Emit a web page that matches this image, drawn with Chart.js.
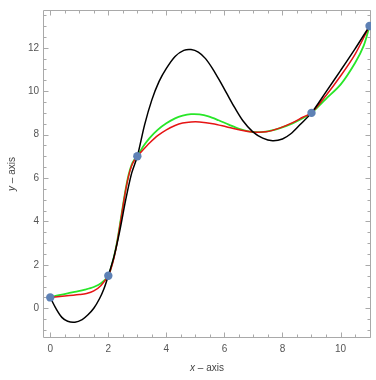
<!DOCTYPE html>
<html><head><meta charset="utf-8">
<script src="https://cdn.jsdelivr.net/npm/chart.js@4.4.1/dist/chart.umd.min.js"></script>
<style>html,body{margin:0;padding:0;background:#fff}#wrap{width:376px;height:380px}</style>
</head><body><div id="wrap"><canvas id="c"></canvas></div>
<script>
// data points
const pointsX=[0,2,3,9,11];
const pointsY=[0.5,1.5,7,9,13];
// black curve
const blackX=[0,0.2,0.4,0.6,0.85,1.1,1.3,1.5,1.7,1.85,2.0,2.2,2.4,2.6,2.8,3.0,3.25,3.5,3.75,4.0,4.3,4.6,4.85,5.1,5.35,5.6,5.85,6.1,6.35,6.63,6.97,7.32,7.66,8.0,8.3,8.6,9.0,9.5,10.0,10.5,11.0];
const blackY=[0.5,-0.02,-0.42,-0.6,-0.64,-0.52,-0.3,0.0,0.45,0.9,1.5,2.4,3.6,5.0,6.2,7.0,8.45,9.6,10.45,11.05,11.6,11.88,11.92,11.8,11.5,11.02,10.45,9.85,9.25,8.65,8.14,7.84,7.72,7.8,8.05,8.45,9.0,9.97,10.95,11.95,13.0];
// red curve
const redX=[0,0.5,1.0,1.25,1.5,1.75,2.0,2.1,2.2,2.3,2.4,2.5,2.6,2.7,2.8,2.9,3.0,3.2,3.42,3.7,4.0,4.3,4.56,4.85,5.14,5.6,6.06,6.51,6.97,7.43,7.9,8.35,8.7,9.0,9.5,10.0,10.5,11.0];
const redY=[0.5,0.56,0.63,0.68,0.8,1.05,1.5,1.85,2.35,3.0,3.8,4.65,5.45,6.1,6.55,6.82,7.0,7.3,7.61,7.95,8.22,8.42,8.53,8.58,8.58,8.5,8.36,8.22,8.12,8.13,8.3,8.55,8.8,9.0,9.8,10.7,11.7,13.0];
// green curve
const greenX=[0,0.3,0.6,0.9,1.2,1.5,1.75,2.0,2.1,2.2,2.3,2.4,2.5,2.6,2.7,2.8,2.9,3.0,3.2,3.42,3.7,4.0,4.3,4.56,4.85,5.14,5.45,5.8,6.15,6.51,6.97,7.43,7.89,8.35,8.81,9.0,9.5,10.0,10.5,10.8,11.0];
const greenY=[0.5,0.6,0.69,0.77,0.86,0.98,1.15,1.5,1.9,2.4,3.05,3.85,4.7,5.5,6.15,6.6,6.85,7.0,7.45,7.84,8.22,8.52,8.75,8.87,8.94,8.93,8.84,8.66,8.46,8.27,8.12,8.14,8.29,8.52,8.83,9.0,9.65,10.3,11.3,12.1,13.0];
// ticks
const xTickLabels=[0,2,4,6,8,10];
const yTickLabels=[0,2,4,6,8,10,12];
const minorStep=0.5;

const zip=(xs,ys)=>xs.map((v,i)=>({x:v,y:ys[i]}));

const framePlugin={id:'frame',beforeDatasetsDraw(chart){
  const {ctx,chartArea:a,scales:{x,y}}=chart;
  ctx.save();
  ctx.strokeStyle='#a9a9a9';ctx.lineWidth=1;
  const L=Math.round(a.left)+0.5,R=Math.round(a.right)-0.5,T=Math.round(a.top)+0.5,B=Math.round(a.bottom)-0.5;
  ctx.beginPath();ctx.moveTo(L,T);ctx.lineTo(R,T);ctx.lineTo(R,B);ctx.lineTo(L,B);ctx.closePath();ctx.stroke();
  ctx.beginPath();
  for(let v=Math.ceil(x.min/minorStep)*minorStep;v<=x.max+1e-9;v+=minorStep){
    const p=Math.round(x.getPixelForValue(v))+0.5;
    const len=xTickLabels.some(t=>Math.abs(t-v)<1e-6)?5:3;
    ctx.moveTo(p,B);ctx.lineTo(p,B-len);ctx.moveTo(p,T);ctx.lineTo(p,T+len);
  }
  for(let v=Math.ceil(y.min/minorStep)*minorStep;v<=y.max+1e-9;v+=minorStep){
    const p=Math.round(y.getPixelForValue(v))+0.5;
    const len=yTickLabels.some(t=>Math.abs(t-v)<1e-6)?5:3;
    ctx.moveTo(L,p);ctx.lineTo(L+len,p);ctx.moveTo(R,p);ctx.lineTo(R-len,p);
  }
  ctx.stroke();
  ctx.restore();
},
afterDraw(chart){
  const {ctx,chartArea:a}=chart;
  ctx.save();
  ctx.fillStyle='#444';ctx.textBaseline='middle';
  const it='italic 10px "Liberation Sans", Arial, sans-serif', nf='10px "Liberation Sans", Arial, sans-serif';
  function label(v){
    ctx.font=it;const w1=ctx.measureText(v).width;
    ctx.font=nf;const rest=' \u2013 axis';const w2=ctx.measureText(rest).width;
    const s=-(w1+w2)/2;
    ctx.textAlign='left';
    ctx.font=it;ctx.fillText(v,s,0);
    ctx.font=nf;ctx.fillText(rest,s+w1,0);
  }
  ctx.save();ctx.translate((a.left+a.right)/2,368);label('x');ctx.restore();
  ctx.save();ctx.translate(12,(a.top+a.bottom)/2);ctx.rotate(-Math.PI/2);label('y');ctx.restore();
  ctx.restore();
}};

new Chart(document.getElementById('c'),{
  type:'scatter',
  data:{datasets:[
    {data:zip(greenX,greenY),showLine:true,borderColor:'rgb(40,230,40)',borderWidth:1.8,pointRadius:0,tension:0.3,order:4},
    {data:zip(redX,redY),showLine:true,borderColor:'rgb(230,20,20)',borderWidth:1.5,pointRadius:0,tension:0.3,order:3},
    {data:zip(blackX,blackY),showLine:true,borderColor:'#000',borderWidth:1.5,pointRadius:0,tension:0.3,order:2},
    {data:zip(pointsX,pointsY),showLine:false,backgroundColor:'#5e81b5',borderColor:'#5e81b5',pointRadius:4.2,borderWidth:0,order:1}
  ]},
  options:{
    responsive:true,maintainAspectRatio:false,animation:false,
    layout:{padding:{left:0,top:7,right:5,bottom:0}},
    plugins:{legend:{display:false},tooltip:{enabled:false}},
    scales:{
      x:{type:'linear',min:-0.25,max:11.05,
        grid:{display:false,drawTicks:false},border:{display:false},
        afterBuildTicks:s=>{s.ticks=xTickLabels.map(v=>({value:v}));},
        afterFit:s=>{s.height=42;},
        ticks:{padding:5,color:'#555',font:{size:10,family:'"Liberation Sans", Arial, sans-serif'},maxRotation:0,autoSkip:false}},
      y:{type:'linear',min:-1.37,max:13.74,
        grid:{display:false,drawTicks:false},border:{display:false},
        afterBuildTicks:s=>{s.ticks=yTickLabels.map(v=>({value:v}));},
        afterFit:s=>{s.width=43;},
        ticks:{padding:4,color:'#555',font:{size:10,family:'"Liberation Sans", Arial, sans-serif'},autoSkip:false}}
    }
  },
  plugins:[framePlugin]
});
</script></body></html>
